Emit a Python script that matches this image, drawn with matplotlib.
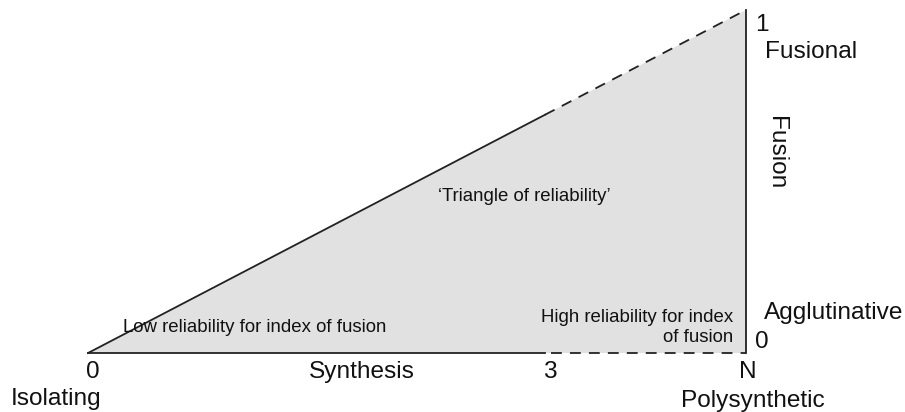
import matplotlib
matplotlib.use("Agg")
import matplotlib.pyplot as plt
from matplotlib.patches import Polygon

plt.rcParams['font.family'] = ['Liberation Sans', 'DejaVu Sans']

# Data: synthesis axis (x) and fusion axis (y)
synthesis_ticks = [0, 3, 4.32]          # 0, 3, N
synthesis_labels = ['0', '3', 'N']
fusion_ticks = [0, 1]
fusion_labels = ['0', '1']
reliable_from = 3                        # synthesis value where reliability begins

N = synthesis_ticks[-1]
line_col = '#222222'
fill_col = '#e1e1e1'
big = 17.6
small = 13.4

fig = plt.figure(figsize=(9.05, 4.12), dpi=100)
ax = fig.add_axes([0, 0, 1, 1])
ax.set_xlim(-0.578, 5.364)
ax.set_ylim(-0.172, 1.029)
ax.axis('off')

# filled triangle
tri = Polygon([(0, 0), (N, 0), (N, fusion_ticks[1])], closed=True,
              facecolor=fill_col, edgecolor='none', zorder=1)
ax.add_patch(tri)

slope = fusion_ticks[1] / N
lw = 1.3
# hypotenuse: solid to reliable_from, dashed after
ax.plot([0, reliable_from], [0, reliable_from * slope], color=line_col, lw=lw, zorder=2)
ax.plot([reliable_from, N], [reliable_from * slope, fusion_ticks[1]], color=line_col,
        lw=lw, dashes=(6, 4.5), zorder=2)
# base: solid to reliable_from, dashed after
ax.plot([0, reliable_from], [0, 0], color=line_col, lw=lw, zorder=2)
ax.plot([reliable_from + 0.04, N], [0, 0], color=line_col, lw=lw, dashes=(6, 4.5), zorder=2)
# right edge
ax.plot([N, N], [0, fusion_ticks[1]], color=line_col, lw=lw, zorder=2)

tc = '#111111'
# bottom tick labels
base_y = -0.073
offsets = [0.03, 0.03, 0.01]
for t, lab, o in zip(synthesis_ticks, synthesis_labels, offsets):
    ax.text(t + o, base_y, lab, ha='center', va='baseline', fontsize=big, color=tc)
ax.text(1.80, base_y, 'Synthesis', ha='center', va='baseline', fontsize=big, color=tc)
ax.text(-0.21, -0.152, 'Isolating', ha='center', va='baseline', fontsize=big, color=tc)
ax.text(N + 0.046, -0.157, 'Polysynthetic', ha='center', va='baseline', fontsize=big, color=tc)

# right side labels
ax.text(N + 0.06, fusion_ticks[1] - 0.044, fusion_labels[1], ha='left', va='center',
        fontsize=big, color=tc)
ax.text(N + 0.125, 0.878, 'Fusional', ha='left', va='center', fontsize=big, color=tc)
ax.text(N + 0.2, 0.583, 'Fusion', ha='center', va='center', rotation=-90,
        fontsize=big, color=tc)
ax.text(N + 0.12, 0.117, 'Agglutinative', ha='left', va='center', fontsize=big, color=tc)
ax.text(N + 0.06, 0.032, fusion_labels[0], ha='left', va='center', fontsize=big, color=tc)

# interior labels
ax.text(2.863, 0.457, '\u2018Triangle of reliability\u2019', ha='center', va='center',
        fontsize=small, color=tc, zorder=3)
ax.text(1.097, 0.074, 'Low reliability for index of fusion', ha='center', va='center',
        fontsize=small, color=tc, zorder=3)
ax.text(4.235, 0.074, 'High reliability for index\nof fusion', ha='right', va='center',
        multialignment='right', fontsize=small, color=tc, zorder=3, linespacing=1.25)

fig.savefig('out.png', dpi=100)
